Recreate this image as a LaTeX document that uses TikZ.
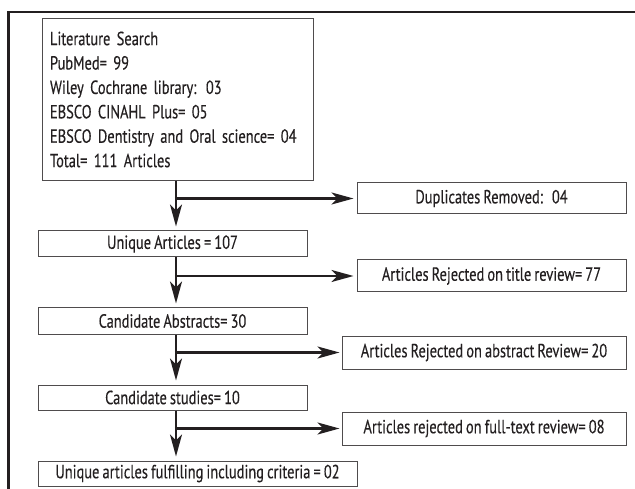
\documentclass[tikz,border=0pt]{standalone}
\usepackage{fontspec}
\setmainfont[FakeStretch=0.76,WordSpace=0.8,FakeBold=0.3]{PT Sans}
\usetikzlibrary{arrows.meta}
\definecolor{ink}{HTML}{231F20}
\begin{document}
\begin{tikzpicture}[x=1pt,y=-1pt,
  box/.style={draw=ink!80, line width=1pt, inner sep=0pt, text=ink,
    font=\fontsize{19}{24.4}\selectfont},
  conn/.style={draw=ink, line width=2.3pt,
    -{Stealth[length=22pt,width=12pt,inset=6pt]}},
  frame/.style={draw=ink, line width=2.6pt}]
\useasboundingbox (0,0) rectangle (635,489);
% outer frame
\coordinate (ftr) at (636,12);
\coordinate (ftl) at (8.5,12);
\coordinate (fbl) at (8.5,490);
\draw[frame] (ftr) -- (ftl) -- (fbl);
% boxes
\node[box, align=left, minimum width=271pt, minimum height=162pt,
  text width=262pt, inner xsep=4.5pt] (b1) at (177.5,99.5)
  {\hspace*{3.5pt}Literature Search\\\hspace*{3.5pt}PubMed= 99\\\hspace*{3.5pt}Wiley Cochrane library: 03\\\hspace*{3.5pt}EBSCO CINAHL Plus= 05\\\hspace*{3.5pt}EBSCO Dentistry and Oral science= 04\\\hspace*{3.5pt}Total= 111 Articles};
\node[box, minimum width=269pt, minimum height=31pt] (dup) at (491.5,198.5) {Duplicates Removed:\hspace{9pt}04};
\node[box, minimum width=269pt, minimum height=26pt] (b2) at (172.5,244) {Unique Articles = 107};
\node[box, minimum width=269pt, minimum height=32pt] (tit) at (491.5,276) {Articles Rejected on title review= 77};
\node[box, minimum width=269pt, minimum height=26pt] (b3) at (172.5,321) {Candidate Abstracts= 30};
\node[box, minimum width=284pt, minimum height=33pt] (abs) at (484,352.5) {Articles Rejected on abstract Review= 20};
\node[box, minimum width=269pt, minimum height=25pt] (b4) at (172.5,397.5) {Candidate studies= 10};
\node[box, minimum width=284pt, minimum height=33pt] (ful) at (484,428.5) {Articles rejected on full-text review= 08};
\node[box, minimum width=319pt, minimum height=25pt] (b5) at (197.5,473.5) {Unique articles fulfilling including criteria = 02};
% trunk
\coordinate (t) at (176,0);
\coordinate (j1) at (t |- dup.west);
\coordinate (j2) at (t |- tit.west);
\coordinate (j3) at (t |- abs.west);
\coordinate (j4) at (t |- ful.west);
% vertical arrows
\draw[conn, shorten >=4pt] (t |- b1.south) -- (t |- b2.north);
\draw[conn, shorten >=4pt] (t |- b2.south) -- (t |- b3.north);
\draw[conn, shorten >=4pt] (t |- b3.south) -- (t |- b4.north);
\draw[conn, shorten >=4pt] (t |- b4.south) -- (t |- b5.north);
% branches
\draw[conn, shorten >=3pt] ([xshift=-1.15pt]j1) -- (dup.west);
\draw[conn, shorten >=3pt] ([xshift=-1.15pt]j2) -- (tit.west);
\draw[conn, shorten >=2pt] ([xshift=-1.15pt]j3) -- (abs.west);
\draw[conn, shorten >=2pt] ([xshift=-1.15pt]j4) -- (ful.west);
\end{tikzpicture}
\end{document}
